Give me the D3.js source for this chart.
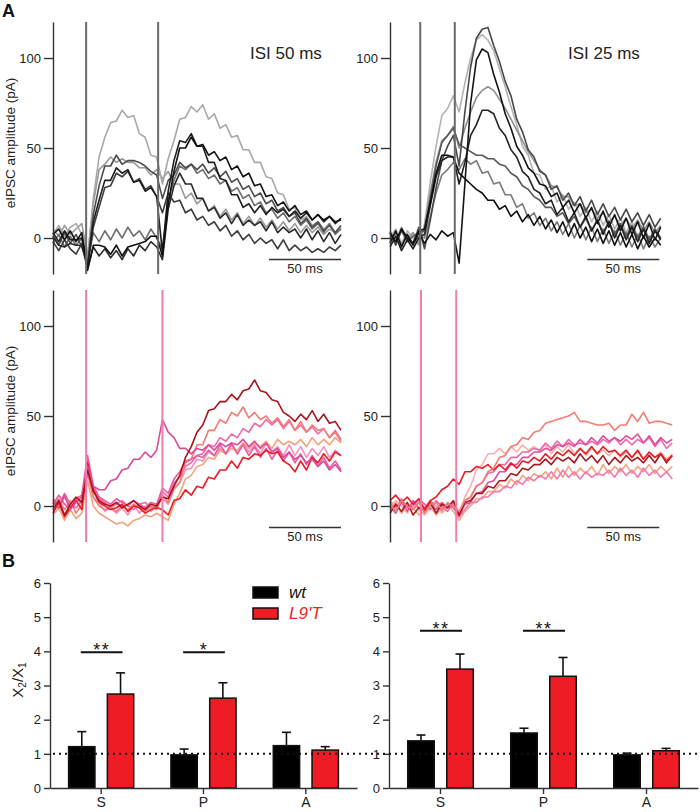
<!DOCTYPE html>
<html>
<head>
<meta charset="utf-8">
<script src="https://cdn.jsdelivr.net/npm/d3@7"></script>
<style>
  body { margin: 0; background: #fff; }
  svg text { font-family: "Liberation Sans", Arial, sans-serif; }
</style>
</head>
<body>
<svg id="fig" width="700" height="812"></svg>
<script>
// ---------- data (pA, one sample every dt ms) ----------
const dt = 4;

// wt, ISI 50 ms
const wt50Traces = [
  [5,1,7,2,5,8,-10,19,38,41,45,42,44,42,42,39,39,35,38,33,37,30,30,22,25,19,22,15,18,12,16,10,14,8,12,7,11,6,10,5,9,4,8,3,7,3,6,2,5,3,5],
  [2,7,1,6,8,2,-12,22,45,56,64,65,71,67,68,58,56,46,45,30,44,54,66,67,73,70,74,66,69,61,63,56,57,49,49,42,42,34,33,25,24,16,17,10,12,7,9,5,8,3,6],
  [-3,2,-5,1,-4,0,-14,3,-2,4,-1,5,0,6,1,4,-1,5,0,-6,21,32,40,38,41,36,38,33,35,30,32,26,28,22,24,18,20,14,16,11,14,9,12,7,10,5,8,3,8,2,5],
  [-2,-7,-1,-6,-9,-3,-15,6,17,28,29,36,34,37,31,33,27,29,23,14,25,20,21,14,16,10,12,7,9,4,7,1,4,-1,2,-3,0,-3,-1,-6,-1,-7,-4,-7,-5,-8,-6,-8,-5,-7,-4],
  [1,-4,3,-3,2,-5,-14,13,29,40,40,46,41,43,43,42,40,37,35,22,32,35,42,39,41,38,41,36,39,34,37,31,33,27,29,23,25,19,21,15,17,12,14,8,11,6,9,4,7,3,7],
  [1,-4,-5,-3,-4,-4,-17,-5,-10,-6,-11,-7,-12,-6,-10,-4,-7,-2,-5,-12,16,29,36,30,30,22,22,15,17,11,14,8,13,7,10,7,9,4,9,3,6,3,5,0,5,-1,4,-2,3,-3,2],
  [3,-2,4,-1,-1,0,-16,9,21,32,32,39,36,38,31,32,26,28,23,-8,26,43,54,53,58,51,51,42,42,33,32,24,24,17,19,14,18,13,17,14,16,12,15,11,14,10,13,9,12,8,11],
  [2,5,-1,4,-2,3,-18,-4,-4,-5,-9,-4,-10,-5,-4,-3,-2,1,1,-10,19,37,50,50,56,51,52,46,48,43,45,38,40,34,36,29,30,23,24,18,20,15,18,13,15,10,13,10,12,9,10]
];
const wt50Colors = ['#9a9a9a', '#a8a8a8', '#6e6e6e', '#3c3c3c', '#4d4d4d', '#2a2a2a', '#1e1e1e', '#111111'];
const wt50Stims = [23, 73];

// wt, ISI 25 ms
const wt25Traces = [
  [0,5,-3,4,0,-4,8,31,51,68,72,79,70,86,100,110,113,110,104,94,84,73,63,51,46,36,35,27,29,20,24,16,20,12,17,9,15,7,13,5,11,3,9,1,7,-1,5,0],
  [4,-2,6,-1,3,-3,6,25,42,54,57,62,50,61,70,78,82,84,82,77,72,66,60,54,48,43,38,35,29,28,23,23,18,19,14,16,11,14,9,12,7,11,5,10,4,9,3,7],
  [-2,3,-4,2,-3,1,0,12,25,35,38,42,38,44,41,43,36,37,30,31,24,24,17,19,11,14,7,11,4,9,2,8,0,7,-1,6,-2,5,-3,4,-4,3,-5,2,-6,1,-5,0],
  [2,-3,4,-2,1,3,4,22,40,53,57,61,52,50,48,46,46,44,44,41,40,36,34,29,27,23,21,17,17,12,14,8,12,6,11,4,10,3,9,2,8,1,7,0,6,-1,5,0],
  [3,-4,5,-1,-3,6,-6,10,28,43,51,57,40,70,95,111,116,117,107,98,87,79,66,59,49,45,37,35,27,29,21,25,18,23,15,21,13,19,12,17,10,16,9,14,7,13,6,11],
  [-5,1,-7,-1,-6,0,2,18,34,43,45,45,30,42,57,63,71,71,69,61,57,49,45,37,34,27,25,19,21,13,17,9,14,6,12,4,10,2,9,0,7,-1,6,-2,5,-3,4,-1],
  [3,-2,5,0,-3,4,5,20,36,46,46,45,36,33,30,27,25,21,21,16,18,12,15,9,13,7,12,5,10,3,9,1,8,0,6,-2,5,-3,4,-4,3,-5,2,-6,1,-5,0,-4],
  [-3,4,-5,2,-4,3,-3,2,-1,4,1,3,-14,30,75,99,105,103,91,81,69,61,51,46,39,36,30,29,23,25,17,21,14,19,11,17,8,15,6,13,4,11,2,9,0,8,-1,6]
];
const wt25Colors = ['#b3b3b3', '#8e8e8e', '#7b7b7b', '#585858', '#484848', '#232323', '#0f0f0f', '#141414'];
const wt25Stims = [21, 45];

// L9'T, ISI 50 ms
const mut50Traces = [
  [2,-2,5,-1,4,1,20,5,2,-3,-1,-4,-1,-5,1,-4,0,-3,1,4,1,9,13,20,21,26,25,30,28,32,29,34,29,35,30,34,29,35,30,33,28,34,28,33,27,32,28,33,27,31,28],
  [-5,-1,-8,-2,-7,-4,14,0,-4,-6,-8,-10,-9,-11,-8,-7,-5,-6,-4,-6,-8,1,7,15,17,22,23,27,26,31,29,32,31,35,32,35,33,36,32,37,34,36,34,37,33,38,34,37,34,38,35],
  [4,0,7,1,-1,3,26,10,4,2,-1,1,3,0,-2,1,2,-1,0,8,5,13,16,22,24,28,29,34,33,38,36,40,38,43,41,46,44,48,45,48,43,47,42,45,41,44,40,43,38,42,37],
  [0,4,-2,3,-4,1,18,5,0,-2,-1,-3,0,-2,1,-1,-3,0,-2,6,2,10,13,24,26,34,34,42,42,48,46,52,50,55,49,52,48,50,46,49,44,48,42,47,41,45,42,43,38,41,36],
  [1,6,1,-2,4,6,28,11,5,3,1,4,2,0,3,1,-1,2,1,10,7,15,19,25,26,28,27,31,28,34,29,35,29,34,28,33,27,32,26,31,25,30,24,29,23,28,22,27,21,25,20],
  [-4,2,-6,-1,3,-2,24,9,2,0,-2,-1,1,-3,0,-1,-4,-2,-1,-2,-5,3,4,9,6,11,10,16,15,20,20,25,21,27,26,29,28,31,29,30,25,23,19,25,20,27,24,29,25,30,28],
  [3,-1,6,-2,2,5,22,11,9,9,14,15,20,21,26,26,30,27,31,48,41,38,32,32,29,32,31,34,31,35,33,35,34,37,33,36,32,35,30,32,27,30,26,28,24,26,22,25,20,23,19],
  [-2,3,-5,1,5,2,20,8,3,1,0,2,-1,1,3,0,-2,1,0,5,4,11,17,27,33,41,45,53,54,58,58,62,59,64,65,70,64,63,59,58,52,50,47,51,48,53,47,51,46,47,42]
];
const mut50Colors = ['#f590c0', '#f5a27c', '#f06aa8', '#f27b74', '#ea5aa2', '#e81c24', '#d94b9b', '#a8141c'];
const mut50Stims = [23, 76];

// L9'T, ISI 25 ms
const mut25Traces = [
  [-2,2,-4,1,-1,-5,-3,0,-5,-1,1,-3,-8,-3,0,4,4,8,8,12,10,15,12,17,14,18,16,19,15,21,16,22,17,21,18,22,17,23,18,22,19,23,18,22,19,23,18,22,19,22],
  [3,-1,4,-1,-2,2,-1,3,0,-3,2,-1,-6,-2,2,2,5,5,8,8,11,10,14,12,16,14,17,15,19,15,20,16,19,15,19,16,18,17,20,16,21,17,20,16,21,17,20,16,19,15],
  [-1,3,0,-4,2,-2,-5,-1,0,-4,-1,2,-4,5,11,20,23,29,29,32,29,33,30,34,31,33,31,34,29,33,30,34,29,32,28,32,29,31,28,31,27,30,27,30,26,29,27,30,26,29],
  [2,-3,3,-1,0,4,1,-2,3,0,-3,2,-4,3,5,11,13,18,19,23,23,27,27,30,30,32,31,35,32,36,33,37,34,35,34,36,34,37,35,38,34,37,34,37,35,38,33,37,32,35],
  [0,-4,2,-3,3,-1,-3,1,-2,2,-1,0,-6,1,2,7,8,13,14,19,19,23,23,27,27,30,30,32,31,34,33,35,33,37,34,38,35,39,36,38,36,39,37,40,35,39,34,38,35,37],
  [-4,1,-3,2,-5,-1,-2,2,-4,1,-1,3,-5,2,3,7,7,11,10,14,14,18,17,21,20,23,23,26,23,27,25,27,24,29,25,28,24,28,23,27,24,28,25,27,24,28,24,29,24,28],
  [3,6,2,5,1,4,-2,3,5,9,11,15,12,19,19,22,21,23,20,23,20,24,21,25,24,27,25,29,26,30,28,31,28,32,29,33,29,33,30,31,28,31,27,31,26,30,27,29,25,28],
  [1,-3,3,0,-2,2,-4,1,2,-2,1,0,-3,3,5,11,13,19,21,27,28,33,34,38,37,41,42,46,47,48,49,50,52,47,47,46,45,45,46,42,45,45,51,47,52,46,47,47,46,45]
];
const mut25Colors = ['#f6a37e', '#f278b2', '#f8b2aa', '#ee69ab', '#df4f9d', '#a51a1e', '#e81c24', '#f47b73'];
const mut25Stims = [21.5, 46];

const traceTicks = [0, 50, 100];

// paired-pulse ratios X2/X1 (mean, SEM)
const groups = ['S', 'P', 'A'];
const genotypes = ['wt', "L9'T"];
const wt50Mean = [1.21, 0.97, 1.24];
const wt50Sem = [0.44, 0.17, 0.39];
const mut50Mean = [2.75, 2.63, 1.11];
const mut50Sem = [0.62, 0.45, 0.10];
const wt25Mean = [1.38, 1.61, 0.97];
const wt25Sem = [0.17, 0.14, 0.05];
const mut25Mean = [3.48, 3.27, 1.09];
const mut25Sem = [0.44, 0.55, 0.07];
const sig50 = [['S', 3.97, '**'], ['P', 3.97, '*']];
const sig25 = [['S', 4.6, '**'], ['P', 4.6, '**']];
const ratioTicks = [0, 1, 2, 3, 4, 5, 6];

// ---------- drawing ----------
const svg = d3.select('#fig');
const pxPerMs = 1.44;

const tracePanels = [
  { traces: wt50Traces, colors: wt50Colors, stims: wt50Stims, tEnd: 200, x0: 53, yBot: 274, art: '#6a6a6a', bar: [150, 200], title: 'ISI 50 ms', titleX: 250, ylab: true },
  { traces: wt25Traces, colors: wt25Colors, stims: wt25Stims, tEnd: 190, x0: 390, yBot: 274, art: '#6a6a6a', bar: [137, 187], title: 'ISI 25 ms', titleX: 568, ylab: false },
  { traces: mut50Traces, colors: mut50Colors, stims: mut50Stims, tEnd: 200, x0: 53, yBot: 542, art: '#f27cad', bar: [150, 200], ylab: true },
  { traces: mut25Traces, colors: mut25Colors, stims: mut25Stims, tEnd: 196, x0: 390, yBot: 542, art: '#f27cad', bar: [137, 187], ylab: false }
];

tracePanels.forEach(p => {
  const x = d3.scaleLinear().domain([0, p.tEnd]).range([p.x0, p.x0 + p.tEnd * pxPerMs]);
  const y = d3.scaleLinear().domain([-20, 120]).range([p.yBot, p.yBot - 252]);
  const g = svg.append('g');

  const line = d3.line()
    .x((d, i) => x(i * dt))
    .y(d => y(d));

  g.selectAll('path.trace')
    .data(p.traces)
    .enter()
    .append('path')
    .attr('class', 'trace')
    .attr('d', line)
    .attr('fill', 'none')
    .attr('stroke', (d, i) => p.colors[i])
    .attr('stroke-width', 1.6)
    .attr('stroke-linejoin', 'round');

  // stimulus artifacts
  g.selectAll('line.stim')
    .data(p.stims)
    .enter()
    .append('line')
    .attr('x1', d => x(d)).attr('x2', d => x(d))
    .attr('y1', y(120)).attr('y2', y(-20))
    .attr('stroke', p.art)
    .attr('stroke-width', 2);

  const ax = g.append('g')
    .attr('transform', `translate(${p.x0},0)`)
    .call(d3.axisLeft(y).tickValues(traceTicks).tickSize(9).tickSizeOuter(0));
  ax.select('.domain').attr('stroke', '#333').attr('stroke-width', 1.4);
  ax.selectAll('.tick line').attr('stroke', '#333').attr('stroke-width', 1.4);
  ax.selectAll('.tick text').attr('font-size', '13px').attr('fill', '#222')
    .style('font-family', '"Liberation Sans", Arial, sans-serif');

  // 50 ms scale bar
  g.append('line')
    .attr('x1', x(p.bar[0])).attr('x2', x(p.bar[1]))
    .attr('y1', y(-12)).attr('y2', y(-12))
    .attr('stroke', '#333').attr('stroke-width', 1.5);
  g.append('text')
    .attr('x', (x(p.bar[0]) + x(p.bar[1])) / 2)
    .attr('y', y(-12) + 13.5)
    .attr('text-anchor', 'middle')
    .attr('font-size', '13px').attr('fill', '#222')
    .text('50 ms');

  if (p.title) {
    g.append('text')
      .attr('x', p.titleX).attr('y', y(100) + 1)
      .attr('font-size', '17px').attr('fill', '#222')
      .text(p.title);
  }
  if (p.ylab) {
    g.append('text')
      .attr('transform', `translate(15,${p.yBot - 131}) rotate(-90)`)
      .attr('text-anchor', 'middle')
      .attr('font-size', '13.5px').attr('fill', '#222')
      .text('eIPSC amplitude (pA)');
  }
});

// ---------- bar charts ----------
const yB = d3.scaleLinear().domain([0, 6]).range([788, 583]);
const barPanels = [
  { x0: 50, range: [50, 357], means: [wt50Mean, mut50Mean], sems: [wt50Sem, mut50Sem], sig: sig50 },
  { x0: 389, range: [389, 698], means: [wt25Mean, mut25Mean], sems: [wt25Sem, mut25Sem], sig: sig25 }
];
const barFill = ['#000000', '#ee1c24'];

barPanels.forEach(p => {
  const xG = d3.scaleBand().domain(groups).range(p.range);
  const xS = d3.scaleBand().domain(genotypes).range([0, xG.bandwidth()])
    .paddingInner(0.32).paddingOuter(0.48);
  const g = svg.append('g');

  const rows = [];
  groups.forEach((grp, gi) => {
    genotypes.forEach((gt, ti) => {
      rows.push({ grp, gt, ti, mean: p.means[ti][gi], sem: p.sems[ti][gi] });
    });
  });
  const cx = d => xG(d.grp) + xS(d.gt) + xS.bandwidth() / 2;

  // error bars (upper only)
  g.selectAll('line.err')
    .data(rows).enter().append('line')
    .attr('x1', cx).attr('x2', cx)
    .attr('y1', d => yB(d.mean)).attr('y2', d => yB(d.mean + d.sem))
    .attr('stroke', '#111').attr('stroke-width', 1.6);
  g.selectAll('line.cap')
    .data(rows).enter().append('line')
    .attr('x1', d => cx(d) - 4.5).attr('x2', d => cx(d) + 4.5)
    .attr('y1', d => yB(d.mean + d.sem)).attr('y2', d => yB(d.mean + d.sem))
    .attr('stroke', '#111').attr('stroke-width', 1.6);

  g.selectAll('rect')
    .data(rows).enter().append('rect')
    .attr('x', d => xG(d.grp) + xS(d.gt))
    .attr('y', d => yB(d.mean))
    .attr('width', xS.bandwidth())
    .attr('height', d => yB(0) - yB(d.mean))
    .attr('fill', d => barFill[d.ti])
    .attr('stroke', '#111').attr('stroke-width', 1.5);

  // significance
  p.sig.forEach(s => {
    const a = xG(s[0]) + xS(genotypes[0]) + xS.bandwidth() / 2 - 1;
    const b = xG(s[0]) + xS(genotypes[1]) + xS.bandwidth() / 2 + 2;
    g.append('line')
      .attr('x1', a).attr('x2', b)
      .attr('y1', yB(s[1])).attr('y2', yB(s[1]))
      .attr('stroke', '#111').attr('stroke-width', 2);
    g.append('text')
      .attr('x', (a + b) / 2).attr('y', yB(s[1]) + 4)
      .attr('text-anchor', 'middle')
      .attr('font-size', '18px').attr('letter-spacing', '1.5px').attr('fill', '#111')
      .text(s[2]);
  });

  const ay = g.append('g')
    .attr('transform', `translate(${p.x0},0)`)
    .call(d3.axisLeft(yB).tickValues(ratioTicks).tickFormat(d3.format('d')).tickSize(6).tickSizeOuter(0));
  const axb = g.append('g')
    .attr('transform', `translate(0,${yB(0)})`)
    .call(d3.axisBottom(xG).tickSize(6).tickSizeOuter(0));
  [ay, axb].forEach(a => {
    a.select('.domain').attr('stroke', '#333').attr('stroke-width', 1.4);
    a.selectAll('.tick line').attr('stroke', '#333').attr('stroke-width', 1.4);
    a.selectAll('.tick text').attr('fill', '#222')
      .style('font-family', '"Liberation Sans", Arial, sans-serif');
  });
  ay.selectAll('.tick text').attr('font-size', '13px');
  axb.selectAll('.tick text').attr('font-size', '14px');
});

// reference line at ratio 1
svg.append('line')
  .attr('x1', 53).attr('x2', 700)
  .attr('y1', yB(1)).attr('y2', yB(1))
  .attr('stroke', '#111').attr('stroke-width', 2)
  .attr('stroke-dasharray', '2,4');

// legend
const legend = svg.append('g');
genotypes.forEach((gt, i) => {
  legend.append('rect')
    .attr('x', 253).attr('y', 587 + i * 21)
    .attr('width', 25).attr('height', 11)
    .attr('fill', barFill[i]).attr('stroke', '#111').attr('stroke-width', 1.5);
  legend.append('text')
    .attr('x', 289).attr('y', 598 + i * 21)
    .attr('font-size', '17px').attr('font-style', 'italic')
    .attr('fill', i === 0 ? '#111' : '#e8232a')
    .text(gt);
});

// ratio axis label X2/X1
const rl = svg.append('text')
  .attr('transform', 'translate(23,680) rotate(-90)')
  .attr('text-anchor', 'middle')
  .attr('font-size', '15px').attr('fill', '#222');
rl.append('tspan').text('X');
rl.append('tspan').attr('font-size', '10px').attr('dy', 3).text('2');
rl.append('tspan').attr('dy', -3).text('/X');
rl.append('tspan').attr('font-size', '10px').attr('dy', 3).text('1');

// panel letters
svg.append('text').attr('x', 2).attr('y', 17)
  .attr('font-size', '18px').attr('font-weight', 'bold').attr('fill', '#111').text('A');
svg.append('text').attr('x', 2).attr('y', 567)
  .attr('font-size', '18px').attr('font-weight', 'bold').attr('fill', '#111').text('B');
</script>
</body>
</html>
